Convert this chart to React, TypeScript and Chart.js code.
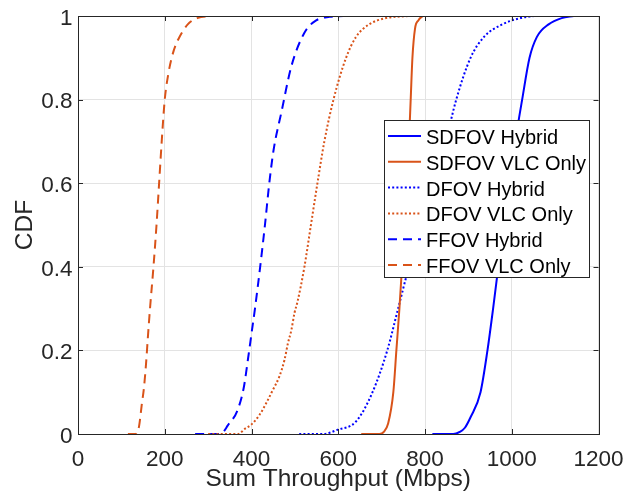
import React, { useEffect, useRef } from 'react';
import { Chart, registerables } from 'chart.js';

Chart.register(...registerables);

const X_TICKS = [0, 200, 400, 600, 800, 1000, 1200];
const Y_TICKS = [0, 0.2, 0.4, 0.6, 0.8, 1];
const X_TICK_LABELS = ['0', '200', '400', '600', '800', '1000', '1200'];
const Y_TICK_LABELS = ['0', '0.2', '0.4', '0.6', '0.8', '1'];
const X_LABEL = 'Sum Throughput (Mbps)';
const Y_LABEL = 'CDF';

const SERIES_NAMES = [
  'SDFOV Hybrid',
  'SDFOV VLC Only',
  'DFOV Hybrid',
  'DFOV VLC Only',
  'FFOV Hybrid',
  'FFOV VLC Only',
];

const sdfovHybridX = [817, 865, 880, 892, 905, 928, 944, 957, 969, 981, 994, 1008, 1024, 1041, 1058, 1085, 1115, 1143];
const sdfovHybridY = [0, 0, 0.005, 0.015, 0.04, 0.1, 0.2, 0.3, 0.4, 0.5, 0.6, 0.7, 0.8, 0.9, 0.95, 0.98, 0.995, 1];

const sdfovVlcX = [653, 695, 705, 715, 727, 734, 741, 747, 753, 758, 763, 767, 771, 777, 785, 795];
const sdfovVlcY = [0, 0, 0.005, 0.025, 0.1, 0.2, 0.3, 0.4, 0.5, 0.6, 0.7, 0.8, 0.9, 0.97, 0.99, 1];

const dfovHybridX = [510, 565, 598, 641, 679, 713, 738, 763, 793, 822, 848, 872, 905, 936, 978, 1020, 1051];
const dfovHybridY = [0, 0, 0.01, 0.03, 0.1, 0.2, 0.3, 0.4, 0.5, 0.6, 0.7, 0.8, 0.9, 0.95, 0.98, 0.995, 1];

const dfovVlcX = [300, 370, 384, 399, 418, 434, 449, 464, 476, 484, 492, 499, 506, 522, 537, 552, 568, 589, 618, 641, 671, 710, 763];
const dfovVlcY = [0, 0, 0.012, 0.022, 0.045, 0.074, 0.105, 0.137, 0.177, 0.217, 0.249, 0.289, 0.316, 0.4, 0.5, 0.6, 0.7, 0.8, 0.9, 0.95, 0.98, 0.995, 1];

const ffovHybridX = [270, 325, 335, 345, 367, 382, 392, 400, 408, 420, 431, 441, 451, 469, 492, 522, 550, 580, 612];
const ffovHybridY = [0, 0, 0.005, 0.02, 0.055, 0.11, 0.18, 0.24, 0.3, 0.4, 0.5, 0.6, 0.68, 0.77, 0.88, 0.96, 0.99, 0.998, 1];

const ffovVlcX = [115, 133, 137, 141, 147, 152, 157, 161, 166, 174, 181, 187, 193, 200, 208, 216, 225, 234, 253, 275, 310];
const ffovVlcY = [0, 0, 0.005, 0.02, 0.07, 0.11, 0.17, 0.23, 0.3, 0.4, 0.5, 0.6, 0.7, 0.8, 0.86, 0.9, 0.93, 0.95, 0.98, 0.995, 1];

const BLUE = '#0000FF';
const ORANGE = '#D95319';
const TEXT = '#262626';
const GRID = '#e3e3e3';
const FONT = '"Liberation Sans", Arial, Helvetica, sans-serif';

const SOLID: number[] = [];
const DOTTED = [2, 2.2];
const DASHED = [9, 6];

const SERIES_X = [sdfovHybridX, sdfovVlcX, dfovHybridX, dfovVlcX, ffovHybridX, ffovVlcX];
const SERIES_Y = [sdfovHybridY, sdfovVlcY, dfovHybridY, dfovVlcY, ffovHybridY, ffovVlcY];
const SERIES_COLORS = [BLUE, ORANGE, BLUE, ORANGE, BLUE, ORANGE];
const SERIES_DASH = [SOLID, SOLID, DOTTED, DOTTED, DASHED, DASHED];

const TICK_FONT = `22.5px ${FONT}`;
const LABEL_FONT = `24.5px ${FONT}`;
const LEGEND_FONT = `20px ${FONT}`;

const boxPlugin = {
  id: 'matlabBox',
  afterDatasetsDraw(chart: any) {
    const { ctx, chartArea: a, scales } = chart;
    const tl = 5;
    ctx.save();
    ctx.strokeStyle = TEXT;
    ctx.lineWidth = 1;
    ctx.setLineDash([]);
    ctx.beginPath();
    for (const v of X_TICKS) {
      const px = Math.round(scales.x.getPixelForValue(v)) + 0.5;
      ctx.moveTo(px, a.bottom);
      ctx.lineTo(px, a.bottom - tl);
      ctx.moveTo(px, a.top);
      ctx.lineTo(px, a.top + tl);
    }
    for (const v of Y_TICKS) {
      const py = Math.round(scales.y.getPixelForValue(v)) + 0.5;
      ctx.moveTo(a.left, py);
      ctx.lineTo(a.left + tl, py);
      ctx.moveTo(a.right, py);
      ctx.lineTo(a.right - tl, py);
    }
    ctx.stroke();
    ctx.strokeRect(Math.round(a.left) + 0.5, Math.round(a.top) + 0.5, Math.round(a.right - a.left), Math.round(a.bottom - a.top));

    ctx.fillStyle = TEXT;
    ctx.font = TICK_FONT;
    ctx.textBaseline = 'alphabetic';
    ctx.textAlign = 'center';
    X_TICKS.forEach((v, i) => {
      ctx.fillText(X_TICK_LABELS[i], scales.x.getPixelForValue(v), 466);
    });
    ctx.textAlign = 'right';
    Y_TICKS.forEach((v, i) => {
      ctx.fillText(Y_TICK_LABELS[i], 72.5, scales.y.getPixelForValue(v) + 8.8);
    });

    ctx.font = LABEL_FONT;
    ctx.textAlign = 'center';
    ctx.fillText(X_LABEL, (a.left + a.right) / 2, 486);
    ctx.save();
    ctx.translate(31.7, (a.top + a.bottom) / 2);
    ctx.rotate(-Math.PI / 2);
    ctx.fillText(Y_LABEL, 0, 0);
    ctx.restore();
    ctx.restore();
  },
  afterDraw(chart: any) {
    const { ctx } = chart;
    const bx = 384.5, by = 120.5, bw = 205, bh = 157;
    ctx.save();
    ctx.fillStyle = '#ffffff';
    ctx.fillRect(bx, by, bw, bh);
    ctx.strokeStyle = TEXT;
    ctx.lineWidth = 1;
    ctx.setLineDash([]);
    ctx.strokeRect(bx, by, bw, bh);
    ctx.font = LEGEND_FONT;
    ctx.textBaseline = 'alphabetic';
    ctx.textAlign = 'left';
    chart.data.datasets.forEach((ds: any, i: number) => {
      const base = 144 + i * 25.8;
      const ly = base - 8;
      ctx.strokeStyle = ds.borderColor;
      ctx.lineWidth = 2;
      ctx.setLineDash(ds.borderDash || []);
      ctx.beginPath();
      ctx.moveTo(388, ly);
      ctx.lineTo(421, ly);
      ctx.stroke();
      ctx.setLineDash([]);
      ctx.fillStyle = '#000000';
      ctx.fillText(ds.label, 426, base);
    });
    ctx.restore();
  },
};

export default function App() {
  const ref = useRef<HTMLCanvasElement | null>(null);

  useEffect(() => {
    document.body.style.margin = '0';
    const canvas = ref.current;
    if (!canvas) return;
    const datasets = SERIES_NAMES.map((name, i) => ({
      label: name,
      data: SERIES_X[i].map((x, j) => ({ x, y: SERIES_Y[i][j] })),
      borderColor: SERIES_COLORS[i],
      backgroundColor: SERIES_COLORS[i],
      borderDash: SERIES_DASH[i],
      borderWidth: 2,
      pointRadius: 0,
      fill: false,
      cubicInterpolationMode: 'monotone' as const,
    }));
    const chart = new Chart(canvas, {
      type: 'line',
      data: { datasets },
      options: {
        animation: false,
        responsive: false,
        maintainAspectRatio: false,
        layout: { padding: { left: 0, top: 16, right: 28.5, bottom: 0 } },
        plugins: { legend: { display: false }, tooltip: { enabled: false } },
        scales: {
          x: {
            type: 'linear',
            min: 0,
            max: 1200,
            afterFit: (s: any) => { s.height = 63; },
            afterBuildTicks: (s: any) => { s.ticks = X_TICKS.map((v) => ({ value: v })); },
            ticks: { display: false },
            grid: { color: GRID, drawTicks: false },
            border: { display: false },
          },
          y: {
            type: 'linear',
            min: 0,
            max: 1,
            afterFit: (s: any) => { s.width = 78; },
            afterBuildTicks: (s: any) => { s.ticks = Y_TICKS.map((v) => ({ value: v })); },
            ticks: { display: false },
            grid: { color: GRID, drawTicks: false },
            border: { display: false },
          },
        },
      },
      plugins: [boxPlugin],
    });
    return () => chart.destroy();
  }, []);

  return (
    <div style={{ position: 'absolute', left: 0, top: 0, width: 627, height: 497, background: '#fff' }}>
      <canvas ref={ref} width={627} height={497} style={{ display: 'block', width: 627, height: 497 }} />
    </div>
  );
}
